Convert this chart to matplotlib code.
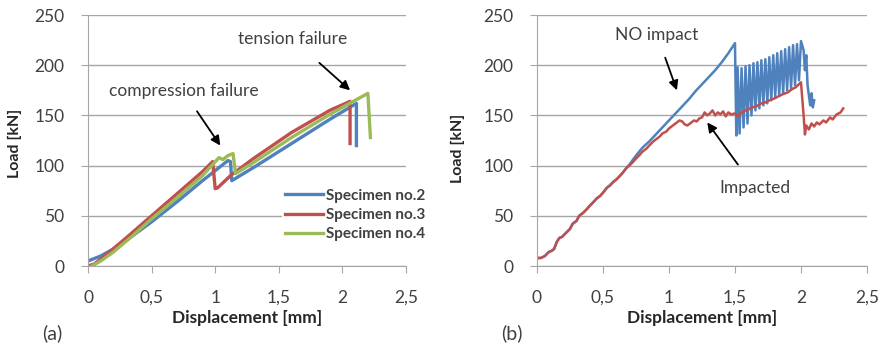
import matplotlib
matplotlib.use("Agg")
import matplotlib.pyplot as plt

plt.rcParams['font.family'] = ['Lato', 'DejaVu Sans']

# colours (Excel 2007 style)
c_blue = '#4F81BD'
c_red = '#C0504D'
c_green = '#9BBB59'
c_grid = '#A6A6A6'
c_text = '#404040'

# ---- panel (a) data ----
spec2_x = [0, 0.1, 0.2, 0.35, 0.5, 0.7, 0.9, 1.05, 1.1, 1.12, 1.13, 1.3, 1.6, 1.9, 2.11, 2.11]
spec2_y = [5, 10, 17, 30, 44, 64, 85, 100, 105, 104, 85, 98, 122, 146, 162, 120]
spec3_x = [0, 0.05, 0.15, 0.3, 0.5, 0.7, 0.9, 0.98, 1.0, 1.02, 1.12, 1.3, 1.6, 1.9, 2.06, 2.06]
spec3_y = [0, 2, 12, 28, 50, 72, 94, 104, 77, 78, 90, 107, 133, 155, 164, 122]
spec4_x = [0.03, 0.1, 0.2, 0.35, 0.5, 0.7, 0.9, 1.03, 1.06, 1.1, 1.14, 1.16, 1.3, 1.6, 1.9, 2.2, 2.22]
spec4_y = [0, 5, 14, 30, 47, 68, 90, 108, 106, 110, 112, 92, 103, 128, 151, 172, 128]
labels_a = ['Specimen no.2', 'Specimen no.3', 'Specimen no.4']

# ---- panel (b) data ----
imp_x = [0, 0.03, 0.06, 0.09, 0.11, 0.13, 0.15, 0.17, 0.19, 0.22, 0.25, 0.27, 0.3, 0.32,
         0.35, 0.38, 0.4, 0.43, 0.45, 0.48, 0.5, 0.53, 0.55, 0.58, 0.6, 0.63, 0.65, 0.68,
         0.7, 0.73, 0.75, 0.78, 0.8, 0.83, 0.85, 0.88, 0.9, 0.93, 0.95, 0.98, 1.0, 1.03,
         1.06, 1.08, 1.1, 1.12, 1.14, 1.16, 1.19, 1.21, 1.23, 1.25, 1.27, 1.29, 1.31,
         1.33, 1.35, 1.37, 1.39, 1.41, 1.43, 1.45, 1.47, 1.5, 1.52, 1.55, 1.58, 1.6,
         1.63, 1.66, 1.7, 1.73, 1.76, 1.8, 1.83, 1.86, 1.9, 1.93, 1.96, 2.0, 2.02, 2.03,
         2.04, 2.06, 2.08, 2.1, 2.12, 2.14, 2.17, 2.19, 2.22, 2.24, 2.27, 2.3, 2.32]
imp_y = [8, 8, 10, 14, 15, 17, 24, 28, 29, 33, 37, 42, 45, 50, 53, 57, 60, 64, 67, 70,
         73, 78, 80, 84, 86, 90, 93, 98, 100, 104, 107, 111, 114, 117, 120, 124, 126,
         129, 132, 134, 137, 140, 143, 145, 144, 141, 140, 142, 145, 144, 147, 148, 153,
         150, 152, 155, 150, 153, 151, 154, 149, 153, 151, 152, 149, 153, 155, 156, 158,
         159, 162, 163, 165, 167, 169, 171, 173, 176, 178, 183, 150, 131, 140, 136, 142,
         139, 143, 141, 145, 143, 148, 146, 151, 153, 157]
noimp_x = [0, 0.03, 0.06, 0.09, 0.11, 0.13, 0.15, 0.17, 0.19, 0.22, 0.25, 0.27, 0.3, 0.32,
           0.35, 0.38, 0.4, 0.43, 0.45, 0.48, 0.5, 0.53, 0.55, 0.58, 0.6, 0.63, 0.65,
           0.68, 0.7, 0.75, 0.8, 0.85, 0.9, 0.95, 1.0, 1.05, 1.1, 1.15, 1.2, 1.25, 1.3,
           1.35, 1.4, 1.45, 1.5, 1.51, 1.52, 1.535, 1.55, 1.565, 1.58, 1.595, 1.61,
           1.625, 1.64, 1.655, 1.67, 1.685, 1.70, 1.715, 1.73, 1.745, 1.76, 1.775, 1.79,
           1.805, 1.82, 1.835, 1.85, 1.865, 1.88, 1.895, 1.91, 1.925, 1.94, 1.955, 1.97,
           1.985, 2.0, 2.02, 2.03, 2.04, 2.05, 2.06, 2.07, 2.08, 2.09, 2.1]
noimp_y = [8, 8, 10, 14, 15, 17, 24, 28, 29, 33, 37, 42, 45, 50, 53, 57, 60, 64, 67, 70,
           73, 78, 80, 84, 86, 90, 93, 98, 101, 110, 118, 124, 131, 138, 145, 152, 159,
           166, 174, 181, 188, 195, 203, 212, 222, 130, 198, 132, 197, 138, 199, 142, 200,
           150, 202, 155, 203, 157, 205, 160, 206, 162, 208, 165, 210, 168, 212, 170, 214,
           172, 216, 175, 218, 177, 220, 180, 221, 185, 224, 215, 195, 210, 180, 170, 160,
           172, 158, 165]

xticks = [0, 0.5, 1, 1.5, 2, 2.5]
xticklabels = ['0', '0,5', '1', '1,5', '2', '2,5']
yticks = [0, 50, 100, 150, 200, 250]

fig = plt.figure(figsize=(8.8, 3.47), dpi=100)
ax1 = fig.add_axes([0.100, 0.2334, 0.3614, 0.7233])
ax2 = fig.add_axes([0.6102, 0.2334, 0.375, 0.7233])


def style(ax):
    ax.set_xlim(0, 2.5)
    ax.set_ylim(0, 250)
    ax.set_xticks(xticks)
    ax.set_xticklabels(xticklabels)
    ax.set_yticks(yticks)
    ax.grid(axis='y', color=c_grid, lw=1)
    ax.set_axisbelow(True)
    for s in ['top', 'right']:
        ax.spines[s].set_visible(False)
    for s in ['left', 'bottom']:
        ax.spines[s].set_color(c_grid)
    ax.tick_params(axis='x', colors=c_grid, length=5, pad=12, labelsize=12.5,
                   labelcolor=c_text)
    ax.tick_params(axis='y', colors=c_grid, length=5, pad=12, labelsize=12.5,
                   labelcolor=c_text)


style(ax1)
style(ax2)

# panel (a)
ax1.plot(spec2_x, spec2_y, color=c_blue, lw=2.4, label=labels_a[0])
ax1.plot(spec3_x, spec3_y, color=c_red, lw=2.4, label=labels_a[1])
ax1.plot(spec4_x, spec4_y, color=c_green, lw=2.4, label=labels_a[2])
leg = ax1.legend(loc='upper left', bbox_to_anchor=(0.320, 0.465),
                 bbox_transform=fig.transFigure, frameon=True, fontsize=11,
                 handlelength=2.5, handletextpad=0.2, labelspacing=0.35,
                 borderpad=0.2, borderaxespad=0)
leg.get_frame().set_facecolor('white')
leg.get_frame().set_edgecolor('none')
leg.get_frame().set_alpha(1)
for t in leg.get_texts():
    t.set_color(c_text)
    t.set_fontweight('bold')

ax1.annotate('compression failure', xy=(1.04, 120), xytext=(0.75, 174),
             ha='center', va='center', fontsize=12.5, color=c_text,
             arrowprops=dict(arrowstyle='-|>', color='black', lw=1.3,
                             shrinkA=8, shrinkB=0, mutation_scale=14))
ax1.annotate('tension failure', xy=(2.06, 175), xytext=(1.61, 226),
             ha='center', va='center', fontsize=12.5, color=c_text,
             arrowprops=dict(arrowstyle='-|>', color='black', lw=1.3,
                             shrinkA=14, shrinkB=0, mutation_scale=14))

# panel (b)
ax2.plot(noimp_x, noimp_y, color=c_blue, lw=1.8)
ax2.plot(imp_x, imp_y, color=c_red, lw=1.8)
ax2.annotate('NO impact', xy=(1.06, 175), xytext=(0.91, 230),
             ha='center', va='center', fontsize=12.5, color=c_text,
             arrowprops=dict(arrowstyle='-|>', color='black', lw=1.3,
                             shrinkA=9, shrinkB=0, mutation_scale=14))
ax2.annotate('Impacted', xy=(1.29, 143), xytext=(1.65, 78),
             ha='center', va='center', fontsize=12.5, color=c_text,
             arrowprops=dict(arrowstyle='-|>', color='black', lw=1.3,
                             shrinkA=11, shrinkB=0, mutation_scale=14))

# axis titles
for xc, yc in [(15 / 880, 0.588), (458 / 880, 0.573)]:
    fig.text(xc, yc, 'Load [kN]', rotation=90, ha='center', va='center',
             fontsize=11.5, fontweight='bold', color='#262626')
for xc in [247 / 880, 702 / 880]:
    fig.text(xc, 1 - 318 / 347, 'Displacement [mm]', ha='center', va='center',
             fontsize=12.5, fontweight='bold', color='#262626')
fig.text(52 / 880, 1 - 333 / 347, '(a)', ha='center', va='center', fontsize=14,
         color=c_text)
fig.text(512 / 880, 1 - 333 / 347, '(b)', ha='center', va='center', fontsize=14,
         color=c_text)

fig.savefig('out.png', dpi=100)
